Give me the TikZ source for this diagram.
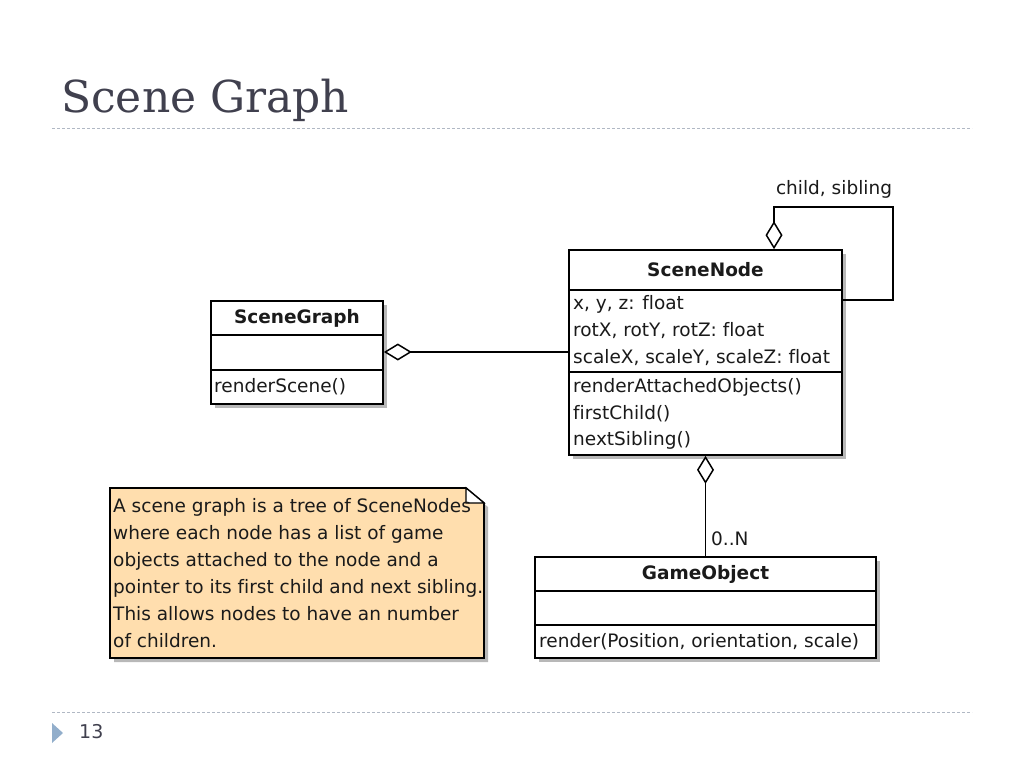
\documentclass[tikz,border=0pt]{standalone}
\usepackage{fontspec}
\setmainfont{DejaVu Sans}[Ligatures=NoCommon]
\newfontfamily\titlefont{DejaVu Serif}
\usetikzlibrary{arrows.meta,calc,shadows}
\definecolor{ink}{HTML}{1A1A1A}
\definecolor{slate}{HTML}{40404E}
\definecolor{rulec}{HTML}{B0B8C4}
\definecolor{notefill}{HTML}{FFDEAE}
\definecolor{bullet}{HTML}{92AECB}
\tikzset{
  umlbox/.style={draw=black, line width=1.7pt, fill=white, inner sep=0pt,
    general shadow={fill=black!28, shadow xshift=4pt, shadow yshift=-4pt}},
  umltext/.style={inner sep=0pt, anchor=west, text=ink, font=\fontsize{18.5}{27}\selectfont},
  umlhead/.style={inner sep=0pt, text=ink, font=\fontsize{18.5}{27}\selectfont\bfseries},
  compline/.style={line width=1.5pt},
  agg/.style={line width=1.5pt, -{Diamond[open, length=28pt, width=17pt, line width=1.5pt]}},
  slideline/.style={rulec, line width=1pt, dash pattern=on 3pt off 2pt},
}
\begin{document}
\begin{tikzpicture}[x=1pt,y=-1pt]
\useasboundingbox (0,0) rectangle (1024,768);

% slide frame
\node[inner sep=0pt, anchor=base west, text=slate, font=\titlefont\fontsize{44}{50}\selectfont] (title) at (61,112) {Scene Graph};
\draw[slideline] (52,128) -- (972,128);
\draw[slideline] (52,712) -- (972,712);
\fill[bullet] (52,723) -- (63,733) -- (52,743) -- cycle;
\node[inner sep=0pt, anchor=west, text=slate, font=\fontsize{19}{21}\selectfont] (pnum) at (79,732) {13};

% SceneGraph
\node[umlbox, minimum width=172pt, minimum height=103pt] (sg) at (297,352.5) {};
\draw[compline] (211,335) -- (383,335);
\draw[compline] (211,370) -- (383,370);
\node[umlhead] (sgname) at (297,318) {SceneGraph};
\node[umltext] (sgop) at (214,387) {renderScene()};

% SceneNode
\node[umlbox, minimum width=273pt, minimum height=205pt] (sn) at (705.5,352.5) {};
\draw[compline] (569,290) -- (842,290);
\draw[compline] (569,372) -- (842,372);
\node[umlhead] (snname) at (705.5,270) {SceneNode};
\node[umltext] (sna1) at (573,304) {x, y, z: float};
\node[umltext] (sna2) at (573,331) {rotX, rotY, rotZ: float};
\node[umltext] (sna3) at (573,358) {scaleX, scaleY, scaleZ: float};
\node[umltext] (sno1) at (573,387) {renderAttachedObjects()};
\node[umltext] (sno2) at (573,414) {firstChild()};
\node[umltext] (sno3) at (573,440) {nextSibling()};

% GameObject
\node[umlbox, minimum width=341pt, minimum height=101pt] (go) at (705.5,607.5) {};
\draw[compline] (535,591) -- (876,591);
\draw[compline] (535,625) -- (876,625);
\node[umlhead] (goname) at (705.5,574) {GameObject};
\node[umltext] (goop) at (539,642) {render(Position, orientation, scale)};

% Note
\fill[black!28] (114,492) -- (470,492) -- (488,507) -- (488,662) -- (114,662) -- cycle;
\filldraw[fill=notefill, draw=black, line width=1.7pt] (110,488) -- (466,488) -- (484,503) -- (484,658) -- (110,658) -- cycle;
\draw[line width=1.2pt, fill=white] (466,488) -- (466,503) -- (484,503) -- cycle;
\node[umltext, align=left] (note) at (113,573) {A scene graph is a tree of SceneNodes\\where each node has a list of game\\objects attached to the node and a\\pointer to its first child and next sibling.\\This allows nodes to have an number\\of children.};

% connectors
\draw[agg] (sn.west |- 0,352) -- (sg.east |- 0,352);
\coordinate (loopA) at (893,300);
\coordinate (loopB) at (893,207);
\coordinate (loopC) at (774,207);
\draw[agg] (sn.east |- loopA) -- (loopA) -- (loopB) -- (loopC) -- (loopC |- sn.north);
\node[inner sep=0pt, text=ink, font=\fontsize{18.5}{27}\selectfont] (loopl) at (834,189) {child, sibling};
\draw[agg] (go.north) -- (sn.south);
\node[umltext] (mult) at (711,539) {0..N};
\end{tikzpicture}
\end{document}
